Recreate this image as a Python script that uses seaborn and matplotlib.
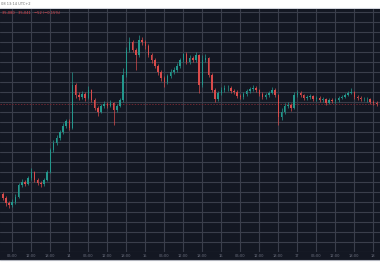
import numpy as np
import pandas as pd
import matplotlib
matplotlib.use("Agg")
import matplotlib.pyplot as plt
from matplotlib.lines import Line2D
from matplotlib.patches import Rectangle
from matplotlib.ticker import MultipleLocator
import seaborn as sns

# ---- data: hourly candles, hours relative to day "14" 00:00 ----
hours = list(range(-21, 98))
first_open = 34080
close = [34040, 33990, 33970, 34000, 34050, 34170, 34200, 34180, 34240, 34300, 34220,
         34190, 34180, 34220, 34300, 34520, 34590, 34640, 34700, 34760, 34810, 34740,
         35170, 35070, 35050, 35080, 35040, 35120, 35020, 34940, 34900, 34960, 34980,
         34960, 34990, 34920, 34960, 35020, 35270, 35520, 35600, 35520, 35470, 35620,
         35600, 35560, 35470, 35420, 35360, 35300, 35240, 35200, 35260, 35300, 35320,
         35360, 35420, 35480, 35400, 35440, 35420, 35470, 35170, 35420, 35440, 35270,
         35120, 35030, 35090, 35120, 35140, 35140, 35110, 35100, 35060, 35050, 35080,
         35110, 35130, 35140, 35120, 35080, 35050, 35070, 35090, 35120, 35070, 34850,
         34900, 34960, 34970, 34940, 35070, 35090, 35070, 35040, 35050, 35060, 35030,
         35040, 35020, 35030, 34990, 35020, 35010, 35020, 35040, 35050, 35070, 35090,
         35100, 35050, 35040, 35030, 35030, 35030, 35000, 34990, 34980]
high = [34100, 34060, 34010, 34030, 34080, 34190, 34230, 34220, 34260, 34340, 34310,
        34240, 34210, 34240, 34320, 34540, 34620, 34670, 34720, 34790, 34830, 34830,
        35300, 35190, 35100, 35110, 35100, 35160, 35130, 35040, 34960, 34980, 35010,
        35000, 35020, 35000, 34980, 35040, 35340, 35550, 35650, 35620, 35540, 35670,
        35650, 35620, 35580, 35490, 35440, 35380, 35320, 35260, 35280, 35330, 35350,
        35390, 35440, 35490, 35500, 35470, 35460, 35500, 35480, 35470, 35480, 35450,
        35290, 35140, 35110, 35150, 35170, 35170, 35160, 35130, 35120, 35080, 35100,
        35130, 35150, 35170, 35160, 35130, 35100, 35090, 35110, 35150, 35140, 35080,
        34940, 34990, 35000, 34990, 35100, 35120, 35110, 35080, 35070, 35080, 35070,
        35060, 35060, 35050, 35040, 35040, 35040, 35040, 35060, 35070, 35090, 35110,
        35140, 35110, 35070, 35060, 35050, 35050, 35040, 35020, 35010]
low = [34020, 33960, 33940, 33950, 33980, 34040, 34150, 34160, 34170, 34220, 34200,
       34170, 34150, 34160, 34210, 34290, 34500, 34570, 34620, 34680, 34740, 34720,
       34730, 35040, 35020, 35030, 35010, 35030, 35000, 34920, 34860, 34890, 34940,
       34940, 34950, 34770, 34900, 34950, 35000, 35250, 35500, 35500, 35320, 35450,
       35570, 35530, 35450, 35390, 35340, 35270, 35210, 35150, 35180, 35240, 35280,
       35300, 35340, 35400, 35380, 35380, 35400, 35400, 35090, 35150, 35400, 35250,
       35100, 35000, 35010, 35070, 35100, 35110, 35090, 35080, 35040, 35030, 35030,
       35060, 35090, 35110, 35100, 35060, 35030, 35030, 35050, 35080, 35050, 34770,
       34820, 34880, 34940, 34910, 34930, 35050, 35050, 35020, 35020, 35030, 35010,
       35010, 35000, 35000, 34970, 34980, 34990, 34990, 35000, 35030, 35040, 35060,
       35080, 35030, 35020, 35010, 35010, 35000, 34980, 34970, 34960]
last_price = 34980
tick_hours = list(range(-18, 97, 6))
tick_labels = ["06:00", "12:00", "18:00", "14", "06:00", "12:00", "18:00", "15",
               "06:00", "12:00", "18:00", "16", "06:00", "12:00", "18:00", "17",
               "06:00", "12:00", "18:00", "18"]
header_text = "08 13:14 UTC+2"
ohlc_text = "35,080   35,041   −52 (−0.15%)"

df = pd.DataFrame({"hour": hours, "close": close, "high": high, "low": low})
df["open"] = [first_open] + close[:-1]
df["up"] = df["close"] >= df["open"]

UP, DOWN = "#23978c", "#d94b4b"
BG = "#131722"
GRID = "#3a3e4b"

sns.set_theme(style="dark")
plt.rcParams["font.family"] = ["DejaVu Sans"]

W, H = 380, 280
fig = plt.figure(figsize=(W / 100, H / 100), dpi=100, facecolor="white")

# dark panel (plot + time scale)
fig.patches.append(Rectangle((0, (H - 260) / H), 1, (260 - 8.5) / H,
                             transform=fig.transFigure, facecolor=BG,
                             edgecolor="none", zorder=-10))
fig.add_artist(Line2D([0, 1], [(H - 8.3) / H] * 2, color="#d1d4dc", lw=0.8,
                      zorder=-5))
fig.add_artist(Line2D([0, 1], [(H - 260.3) / H] * 2, color="#b2b5be", lw=0.8,
                      zorder=-5))

ax = fig.add_axes([0, (H - 252) / H, 1, (252 - 8.5) / H])
ax.set_zorder(5)
ax.set_facecolor(BG)

colors = np.where(df["up"], UP, DOWN)
ax.vlines(df["hour"], df["low"], df["high"], colors=colors, lw=0.5, zorder=3)
body_bottom = np.minimum(df["open"], df["close"])
body_h = np.maximum(np.abs(df["close"] - df["open"]), 4)
ax.bar(df["hour"], body_h, bottom=body_bottom, width=0.5, color=colors,
       linewidth=0, zorder=4)

ax.axhline(last_price, color="#6e2630", lw=0.7, ls=(0, (1.5, 1.5)), zorder=2)

ax.set_xlim(-21.88, 98.1)
ax.set_ylim(33500, 35935)
ax.yaxis.set_major_locator(MultipleLocator(100))
ax.set_xticks(tick_hours)
ax.set_xticklabels(tick_labels)
ax.set_yticklabels([])
ax.grid(True, color=GRID, lw=0.8)
ax.tick_params(axis="x", length=0, pad=1.6, labelsize=2.6, colors="#6d7180")
ax.tick_params(axis="y", length=0)
for s in ax.spines.values():
    s.set_visible(False)
ax.set_xlabel("")
ax.set_ylabel("")

fig.text(0.002, (H - 4) / H, header_text, fontsize=2.6, color="#707070",
         va="center", ha="left")
fig.text(0.004, (H - 13.3) / H, ohlc_text, fontsize=2.6, color="#e0434b",
         va="center", ha="left", zorder=10)

fig.savefig("out.png", dpi=100, facecolor="white")
